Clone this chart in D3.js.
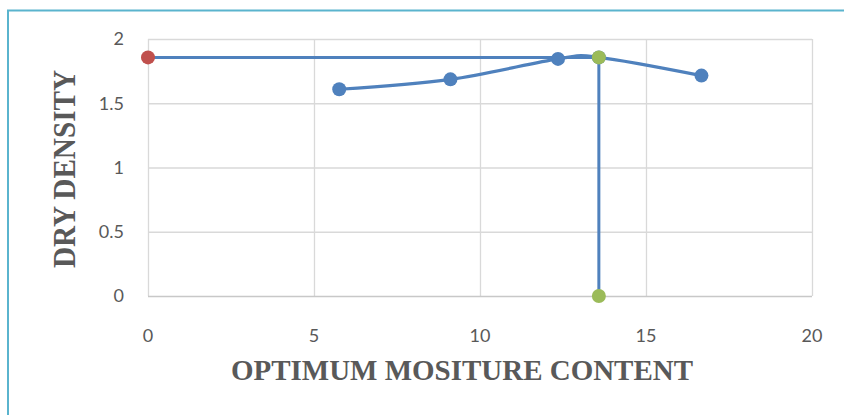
<!DOCTYPE html>
<html><head><meta charset="utf-8">
<script src="https://cdn.jsdelivr.net/npm/d3@7"></script>
<style>html,body{margin:0;padding:0;background:#fff;}svg{display:block;}</style>
</head><body>
<svg id="c" width="844" height="415"></svg>
<script>
// Data
const curveX = [5.76, 9.11, 12.35, 13.58, 16.67];
const curveY = [1.609, 1.686, 1.845, 1.857, 1.715];
const refX = [0, 13.58, 13.58];
const refY = [1.857, 1.857, 0];
const redPointX = [0];
const redPointY = [1.857];
const greenPointX = [13.58, 13.58];
const greenPointY = [1.857, 0];
const xTicks = [0, 5, 10, 15, 20];
const yTicks = [0, 0.5, 1, 1.5, 2];
const xTitle = "OPTIMUM MOSITURE CONTENT";
const yTitle = "DRY DENSITY";

const svg = d3.select("#c");
const L = 148, R = 812, T = 39, B = 296;
const x = d3.scaleLinear().domain([0, 20]).range([L, R]);
const y = d3.scaleLinear().domain([0, 2]).range([B, T]);

// outer chart border (teal)
svg.append("path").attr("d", "M8,420 L8,10.5 L850,10.5")
  .attr("fill", "none").attr("stroke", "#5ab4ce").attr("stroke-width", 2);

// gridlines
const g = svg.append("g");
g.selectAll("line.h").data(yTicks.filter(d => d > 0)).join("line")
  .attr("x1", L).attr("x2", R).attr("y1", d => y(d) + 0.5).attr("y2", d => y(d) + 0.5)
  .attr("stroke", "#d9d9d9").attr("stroke-width", 1.3);
g.selectAll("line.v").data(xTicks).join("line")
  .attr("y1", T).attr("y2", B).attr("x1", d => x(d) + 0.5).attr("x2", d => x(d) + 0.5)
  .attr("stroke", "#d9d9d9").attr("stroke-width", 1.3);
// x axis line
g.append("line").attr("x1", L).attr("x2", R).attr("y1", B + 0.5).attr("y2", B + 0.5)
  .attr("stroke", "#c8c8c8").attr("stroke-width", 1.5);

// tick labels
const font = "Lato, 'Open Sans', sans-serif";
svg.append("g").selectAll("text").data(yTicks).join("text")
  .attr("x", 124).attr("y", d => y(d)).attr("dy", "0.35em")
  .attr("text-anchor", "end").attr("font-family", font).attr("font-size", 18)
  .attr("fill", "#595959").text(d => d);
svg.append("g").selectAll("text").data(xTicks).join("text")
  .attr("x", d => x(d)).attr("y", 336).attr("dy", "0.35em")
  .attr("text-anchor", "middle").attr("font-family", font).attr("font-size", 18)
  .attr("fill", "#595959").text(d => d);

// axis titles
const serif = "'Liberation Serif', 'Times New Roman', serif";
svg.append("text").attr("x", 462).attr("y", 380).attr("text-anchor", "middle")
  .attr("font-family", serif).attr("font-weight", "bold").attr("font-size", 29)
  .attr("fill", "#595959").attr("textLength", 462).attr("lengthAdjust", "spacingAndGlyphs")
  .text(xTitle);
svg.append("text").attr("transform", "translate(75,169) rotate(-90)").attr("text-anchor", "middle")
  .attr("font-family", serif).attr("font-weight", "bold").attr("font-size", 31)
  .attr("fill", "#595959").attr("textLength", 198).attr("lengthAdjust", "spacingAndGlyphs")
  .text(yTitle);

const blue = "#4f81bd";
// reference lines
const refPts = refX.map((d, i) => [d, refY[i]]);
svg.append("path").datum(refPts)
  .attr("d", d3.line().x(d => x(d[0])).y(d => y(d[1])))
  .attr("fill", "none").attr("stroke", blue).attr("stroke-width", 3);

// smooth main curve
const pts = curveX.map((d, i) => [d, curveY[i]]);
svg.append("path").datum(pts)
  .attr("d", d3.line().x(d => x(d[0])).y(d => y(d[1])).curve(d3.curveCatmullRom.alpha(0)))
  .attr("fill", "none").attr("stroke", blue).attr("stroke-width", 3.2).attr("stroke-linejoin", "round");

svg.append("g").selectAll("circle").data(pts).join("circle")
  .attr("cx", d => x(d[0])).attr("cy", d => y(d[1])).attr("r", 7).attr("fill", blue);

svg.append("g").selectAll("circle").data(redPointX.map((d, i) => [d, redPointY[i]])).join("circle")
  .attr("cx", d => x(d[0])).attr("cy", d => y(d[1])).attr("r", 7).attr("fill", "#c0504d");
svg.append("g").selectAll("circle").data(greenPointX.map((d, i) => [d, greenPointY[i]])).join("circle")
  .attr("cx", d => x(d[0])).attr("cy", d => y(d[1])).attr("r", 7).attr("fill", "#9bbb59");
</script>
</body></html>
